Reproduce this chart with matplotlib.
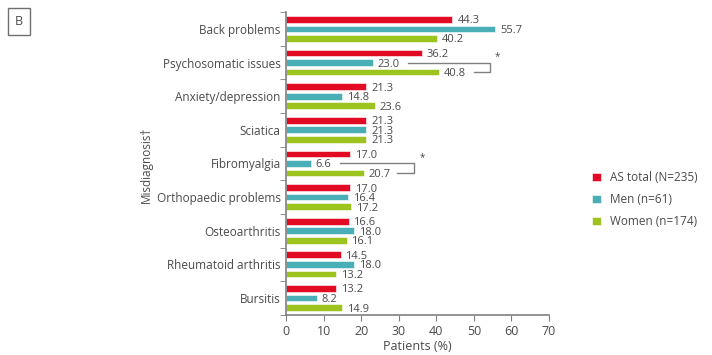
import matplotlib.pyplot as plt
import numpy as np

# data
categories = ['Back problems', 'Psychosomatic issues', 'Anxiety/depression',
              'Sciatica', 'Fibromyalgia', 'Orthopaedic problems',
              'Osteoarthritis', 'Rheumatoid arthritis', 'Bursitis']
total = [44.3, 36.2, 21.3, 21.3, 17.0, 17.0, 16.6, 14.5, 13.2]
men = [55.7, 23.0, 14.8, 21.3, 6.6, 16.4, 18.0, 18.0, 8.2]
women = [40.2, 40.8, 23.6, 21.3, 20.7, 17.2, 16.1, 13.2, 14.9]
series_names = ['AS total (N=235)', 'Men (n=61)', 'Women (n=174)']
colors = ['#e30b24', '#4aaeb7', '#9cc31e']

# significance brackets: category index, start x (men line), right x, end x (women line)
brackets = [(1, 32.5, 54.3, 50.0), (4, 14.4, 34.1, 29.5)]

txt = '#4a4a4a'
plt.rcParams['font.family'] = ['Open Sans', 'DejaVu Sans']
plt.rcParams['font.size'] = 8.5

fig = plt.figure(figsize=(7.12, 3.55), dpi=100)
ax = fig.add_axes([0.402, 0.113, 0.369, 0.853])

y = np.arange(len(categories))
h = 0.2
off = 0.285
for vals, dy, c, name in zip([total, men, women], [-off, 0, off], colors, series_names):
    ax.barh(y + dy, vals, height=h, color=c, edgecolor='white', linewidth=0.4, label=name)
    for yi, v in zip(y, vals):
        ax.text(v + 1.3, yi + dy, f'{v:.1f}', va='center_baseline', ha='left',
                color=txt, fontsize=8)

for i, x0, x1, x2 in brackets:
    ax.plot([x0, x1, x1, x2], [i, i, i + off, i + off], color='#808080', lw=1)
    ax.text(x1 + 1.3, i - 0.18, '*', ha='left', va='center', color=txt, fontsize=7)

ax.set_xlim(0, 70)
ax.set_ylim(len(categories) - 0.5, -0.5)
ax.set_xticks(range(0, 71, 10))
ax.set_yticks(y)
ax.set_yticklabels(categories, color=txt)
ax.set_yticks(np.arange(-0.5, len(categories)), minor=True)
ax.tick_params(axis='y', which='major', length=0, pad=4)
ax.tick_params(axis='y', which='minor', length=4, color='#808080', direction='out')
ax.tick_params(axis='x', length=4, color='#808080', labelcolor=txt, labelsize=9)
for s in ['top', 'right']:
    ax.spines[s].set_visible(False)
for s in ['left', 'bottom']:
    ax.spines[s].set_color('#808080')
    ax.spines[s].set_linewidth(1.2)

ax.set_xlabel('Patients (%)', color=txt, fontsize=9, labelpad=1)
fig.text(0.205, 0.535, 'Misdiagnosis\u2020', rotation=90, ha='center', va='center',
         color=txt, fontsize=8.5)

leg = ax.legend(loc='center left', bbox_to_anchor=(1.125, 0.38), frameon=False,
                handlelength=0.7, handleheight=0.7, handletextpad=0.8, labelspacing=0.75,
                fontsize=8.5)
for t in leg.get_texts():
    t.set_color(txt)

fig.text(0.027, 0.94, 'B', ha='center', va='center', color=txt, fontsize=9,
         bbox=dict(boxstyle='square,pad=0.55', fc='white', ec='#707070', lw=1))

fig.savefig('out.png', dpi=100)
